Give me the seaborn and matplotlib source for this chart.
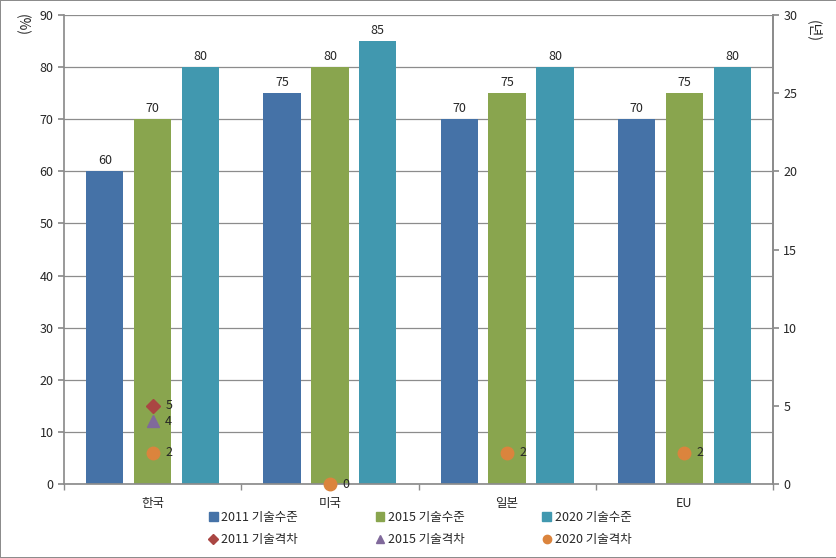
import numpy as np
import pandas as pd
import matplotlib.pyplot as plt
import seaborn as sns
from matplotlib.lines import Line2D
from matplotlib.patches import Patch

sns.set_theme(style='white')
plt.rcParams['font.family'] = ['Noto Sans CJK KR', 'DejaVu Sans']

# data
countries = ['한국', '미국', '일본', 'EU']
level_2011 = [60, 75, 70, 70]
level_2015 = [70, 80, 75, 75]
level_2020 = [80, 85, 80, 80]
gap_2011 = [5, np.nan, np.nan, np.nan]
gap_2015 = [4, np.nan, np.nan, np.nan]
gap_2020 = [2, 0, 2, 2]

level_names = ['2011 기술수준', '2015 기술수준', '2020 기술수준']
gap_names = ['2011 기술격차', '2015 기술격차', '2020 기술격차']
bar_colors = ['#4572A7', '#89A54E', '#4198AF']
gap_colors = ['#AA4643', '#80699B', '#DB843D']
gap_markers = ['D', '^', 'o']

df = pd.DataFrame({
    '국가': countries * 3,
    '구분': sum([[n] * len(countries) for n in level_names], []),
    '값': level_2011 + level_2015 + level_2020,
})

fig = plt.figure(figsize=(8.37, 5.58), dpi=100, linewidth=1.2, edgecolor='#8c8c8c')
ax = fig.add_axes([0.0765, 0.1326, 0.847, 0.8405])

sns.barplot(data=df, x='국가', y='값', hue='구분', palette=bar_colors,
            width=0.81, gap=0.22, ax=ax, legend=False, saturation=1, linewidth=0)
for c in ax.containers:
    ax.bar_label(c, fontsize=9, padding=3)

ax.set_xlim(-0.5, 3.5)
ax.set_ylim(0, 90)
ax.set_yticks(range(0, 91, 10))
ax.set_xlabel('')
ax.set_ylabel('')
ax.yaxis.grid(True, color='#8c8c8c', linewidth=0.9)
ax.set_axisbelow(True)
ax.tick_params(axis='y', labelsize=9, length=4, left=True, color='#8c8c8c')
ax.tick_params(axis='x', labelsize=9, length=0, pad=9)
ax.set_xticks([-0.5, 0.5, 1.5, 2.5, 3.5], minor=True)
ax.tick_params(axis='x', which='minor', length=4, bottom=True, color='#8c8c8c')
for s in ['left', 'bottom', 'right']:
    ax.spines[s].set_color('#8c8c8c')
ax.spines['top'].set_visible(False)

ax2 = ax.twinx()
ax2.set_ylim(0, 30)
ax2.set_yticks(range(0, 31, 5))
ax2.tick_params(axis='y', labelsize=9, length=4, right=True, color='#8c8c8c')
ax2.spines['top'].set_visible(False)
ax2.spines['right'].set_color('#8c8c8c')
ax2.spines['left'].set_visible(False)
ax2.spines['bottom'].set_visible(False)
ax2.grid(False)

xs = np.arange(len(countries))
for vals, col, mk in zip([gap_2011, gap_2015, gap_2020], gap_colors, gap_markers):
    vals = np.array(vals, dtype=float)
    ok = ~np.isnan(vals)
    ax2.plot(xs[ok], vals[ok], linestyle='none', marker=mk, color=col,
             markersize=9 if mk != 'D' else 7, clip_on=False, zorder=5)
    for x, v in zip(xs[ok], vals[ok]):
        ax2.annotate(f'{v:g}', (x, v), xytext=(9, 0), textcoords='offset points',
                     va='center', ha='left', fontsize=9)

fig.text(0.026, 0.955, '(%)', rotation=270, fontsize=10, ha='center', va='center')
fig.text(0.972, 0.945, '(년)', rotation=270, fontsize=10, ha='center', va='center')

handles = []
for i in range(3):
    handles.append(Patch(color=bar_colors[i], label=level_names[i]))
    handles.append(Line2D([], [], linestyle='none', marker=gap_markers[i],
                          color=gap_colors[i], markersize=6 if i != 0 else 5,
                          label=gap_names[i]))
fig.legend(handles=handles, ncol=3, loc='center', bbox_to_anchor=(0.502, 0.053),
           frameon=False, fontsize=9, handlelength=0.7, handleheight=0.7,
           handletextpad=0.3, columnspacing=6.2, labelspacing=0.75)

fig.savefig('out.png', dpi=100)
